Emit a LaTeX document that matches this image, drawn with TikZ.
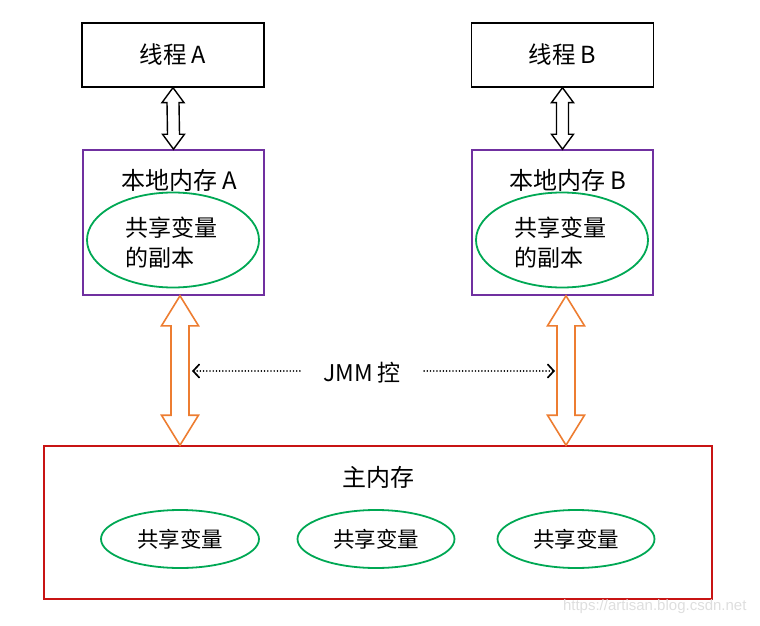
\documentclass[tikz,border=0pt]{standalone}
\usepackage{fontspec}
\setmainfont{Noto Sans CJK SC}
\newfontfamily\wmfont{Liberation Sans}
\usetikzlibrary{calc,arrows.meta,shapes.geometric}

\definecolor{boxpurple}{RGB}{112,48,160}
\definecolor{vargreen}{RGB}{0,168,84}
\definecolor{linkorange}{RGB}{237,125,49}
\definecolor{memred}{RGB}{200,20,20}

% hollow double arrow: top point, bottom point, head half width : shaft half width : head length
\def\fatarrow[#1](#2)(#3)(#4:#5:#6){\draw[#1] (#2) -- ($(#2)+(#4,#6)$) -- ($(#2)+(#5,#6)$) -- ($(#3)+(#5,-#6)$) -- ($(#3)+(#4,-#6)$) -- (#3) -- ($(#3)+(-#4,-#6)$) -- ($(#3)+(-#5,-#6)$) -- ($(#2)+(-#5,#6)$) -- ($(#2)+(-#4,#6)$) -- cycle;}

\begin{document}
\begin{tikzpicture}[x=1pt,y=-1pt,
    thread/.style={draw,line width=1.3pt,minimum width=182pt,minimum height=64pt,font=\fontsize{23.5}{26}\selectfont},
    local/.style={draw=boxpurple,line width=1.6pt,minimum width=181pt,minimum height=145pt},
    title/.style={font=\fontsize{24}{27}\selectfont},
    share/.style={ellipse,draw=vargreen,line width=1.8pt},
    sharetext/.style={font=\fontsize{23}{30}\selectfont,align=left},
    vartext/.style={font=\fontsize{21.5}{24}\selectfont},
    dotline/.style={line width=1.7pt,line cap=round,dash pattern=on 0.01pt off 3.2pt,-{Straight Barb[length=6pt,width=13pt,line cap=round]}}]
  \useasboundingbox (0,0) rectangle (760,626);

  %%%%% threads %%%%%
  \node[thread] (thA) at (173,55) {线程 A};
  \node[thread] (thB) at (562.5,55) {线程 B};

  %%%%% local memory %%%%%
  \node[local] (locA) at (173.5,222.5) {};
  \node[title] (locAt) at (179,180) {本地内存 A};
  \node[share,minimum width=172pt,minimum height=95pt] (shA) at (173,240) {};
  \node[sharetext] (shAt) at (171,243) {共享变量\\的副本};

  \node[local] (locB) at (562.5,222.5) {};
  \node[title] (locBt) at (568,180) {本地内存 B};
  \node[share,minimum width=172pt,minimum height=95pt] (shB) at (562,240) {};
  \node[sharetext] (shBt) at (560,243) {共享变量\\的副本};

  \fatarrow[line width=1.4pt](thA.south)(locA.north)(11:6:15)
  \fatarrow[line width=1.4pt](thB.south)(locB.north)(11:6:15)

  %%%%% main memory %%%%%
  \node[draw=memred,line width=1.6pt,minimum width=668pt,minimum height=153pt] (mem) at (378,522.5) {};
  \node[title] (memt) at (378,477) {主内存};
  \node[share,vartext,minimum width=158pt,minimum height=58pt] (v1) at (180,539) {共享变量};
  \node[share,vartext,minimum width=157pt,minimum height=58pt] (v2) at (376,539) {共享变量};
  \node[share,vartext,minimum width=157pt,minimum height=58pt] (v3) at (576,539) {共享变量};

  \coordinate (oA1) at ($(locA.south)+(6.5,0)$);
  \coordinate (oA2) at (oA1 |- mem.north);
  \coordinate (oB1) at ($(locB.south)+(3.5,0)$);
  \coordinate (oB2) at (oB1 |- mem.north);
  \fatarrow[draw=linkorange,line width=1.6pt](oA1)(oA2)(18.5:9:30)
  \fatarrow[draw=linkorange,line width=1.6pt](oB1)(oB2)(18.5:9:30)

  %%%%% JMM %%%%%
  \node[font=\fontsize{23}{26}\selectfont,inner xsep=23pt] (jmm) at (362,373) {JMM 控};
  \coordinate (dA) at (192,371);
  \coordinate (dB) at (555,371);
  \draw[dotline] (jmm.west |- dA) -- (dA);
  \draw[dotline] (jmm.east |- dB) -- (dB);

  \node[anchor=east,text=black!13,font=\wmfont\fontsize{15}{18}\selectfont] (wm) at (750,607) {https://artisan.blog.csdn.net};
\end{tikzpicture}
\end{document}
